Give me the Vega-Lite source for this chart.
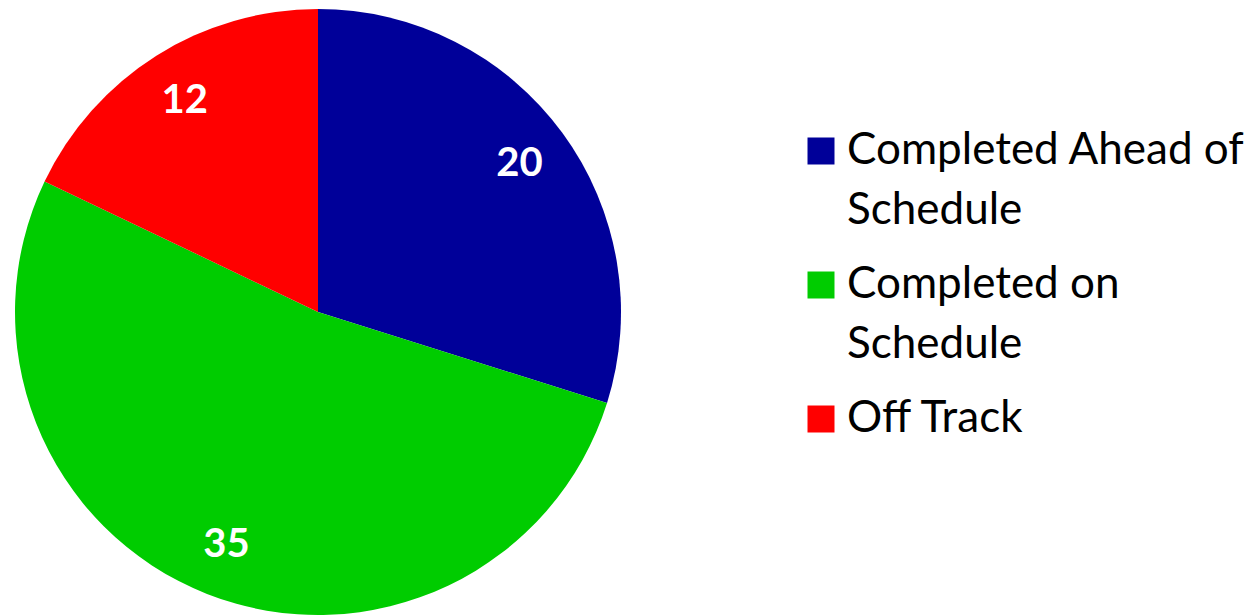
{
  "$schema": "https://vega.github.io/schema/vega-lite/v6.json",
  "width": 606,
  "height": 606,
  "padding": {"left": 15, "top": 9, "right": 0, "bottom": 0},
  "background": "white",
  "data": {
    "values": [
      {"status": "Completed Ahead of Schedule", "count": 20},
      {"status": "Completed on Schedule", "count": 35},
      {"status": "Off Track", "count": 12}
    ]
  },
  "encoding": {
    "theta": {"field": "count", "type": "quantitative", "stack": true},
    "color": {
      "field": "status",
      "type": "nominal",
      "scale": {
        "domain": ["Completed Ahead of Schedule", "Completed on Schedule", "Off Track"],
        "range": ["#000099", "#00CC00", "#FF0000"]
      },
      "legend": {
        "title": null,
        "orient": "none",
        "legendX": 784,
        "legendY": 120,
        "padding": 0,
        "symbolType": "square",
        "symbolSize": 729,
        "symbolStrokeWidth": 0,
        "symbolOpacity": 1,
        "labelFont": "Lato",
        "labelFontSize": 44,
        "labelColor": "black",
        "labelOffset": 4,
        "labelLimit": 0,
        "rowPadding": 30,
        "labelExpr": "datum.label == 'Completed Ahead of Schedule' ? ['Completed Ahead of', 'Schedule'] : datum.label == 'Completed on Schedule' ? ['Completed on', 'Schedule'] : datum.label"
      }
    },
    "order": {"field": "status"}
  },
  "layer": [
    {"mark": {"type": "arc", "outerRadius": 303, "stroke": null}},
    {
      "mark": {"type": "text", "radius": 250, "fontSize": 40, "font": "Lato", "fontWeight": "bold", "fill": "white"},
      "encoding": {"text": {"field": "count", "type": "quantitative"}, "color": {"value": "white"}}
    }
  ],
  "config": {
    "view": {"stroke": null},
    "style": {"guide-label": {"lineHeight": 60}}
  }
}
